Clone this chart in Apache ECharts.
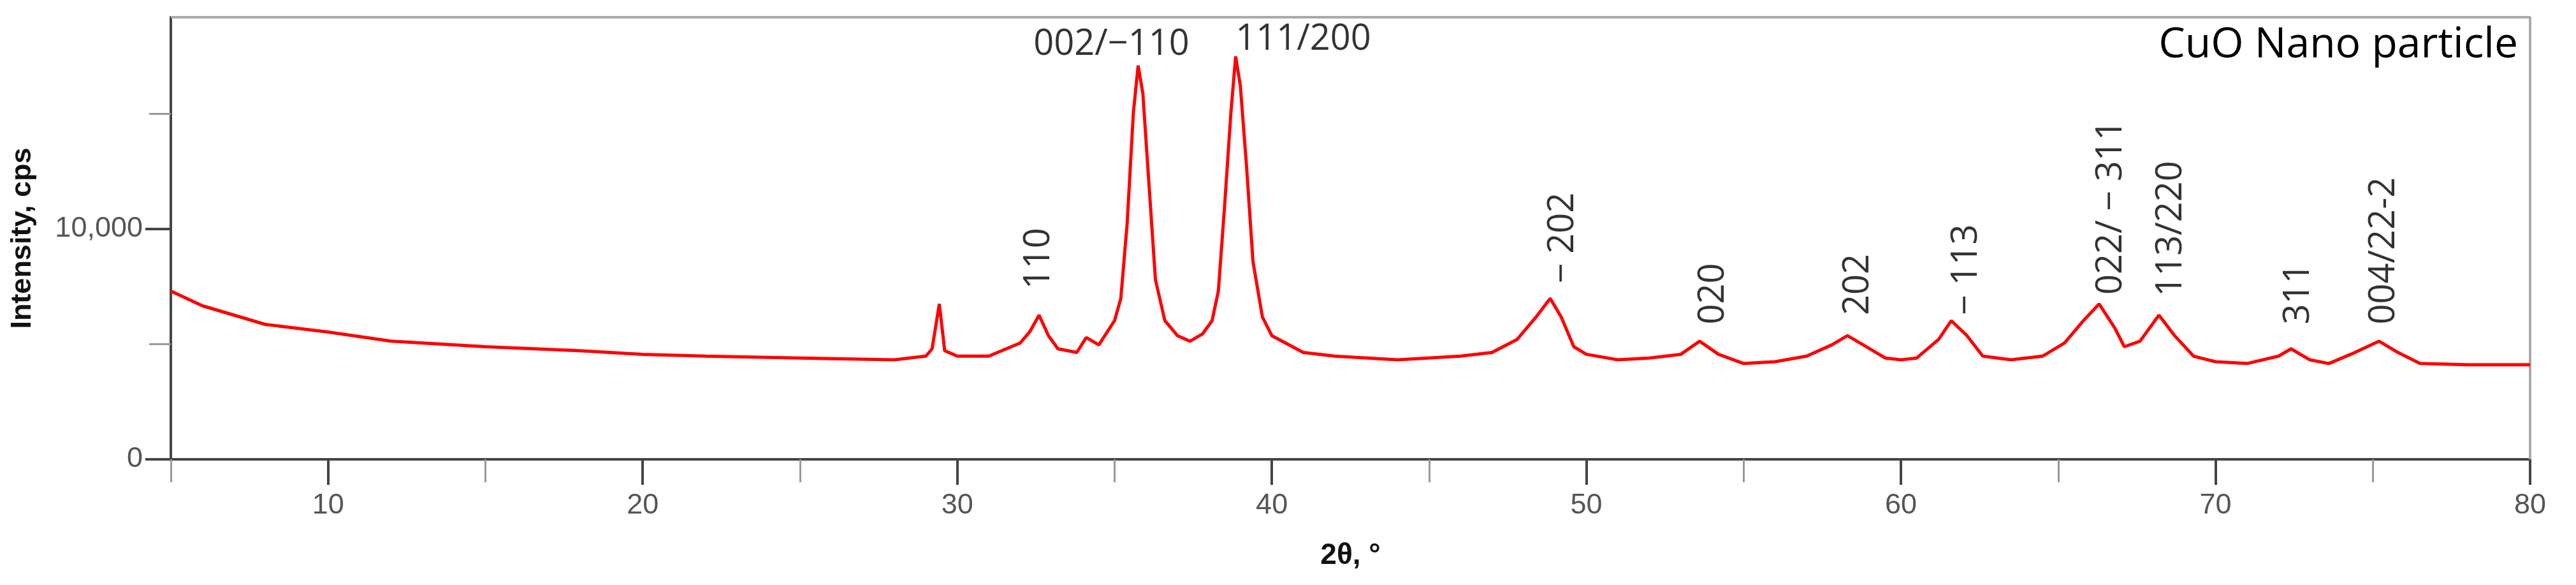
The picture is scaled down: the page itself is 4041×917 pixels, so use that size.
<!DOCTYPE html>
<html>
<head>
<meta charset="utf-8">
<script src="https://cdn.jsdelivr.net/npm/echarts@6/dist/echarts.min.js"></script>
<style>
  html, body { margin: 0; padding: 0; background: #fff; }
  #main { width: 4041px; height: 917px; }
</style>
</head>
<body>
<div id="main"></div>
<script>
// 2theta (deg) and intensity (cps)
var twoTheta = [5, 6, 8, 10, 12, 15, 18, 20, 22, 25, 28, 29, 29.2, 29.43, 29.6, 30, 31, 32, 32.3, 32.6, 32.9, 33.2, 33.8, 34.1, 34.5,
  35, 35.2, 35.4, 35.6, 35.75, 35.9, 36.1, 36.3, 36.6, 37, 37.4, 37.8, 38.1, 38.3, 38.5, 38.7, 38.85, 39.0, 39.2, 39.4, 39.7,
  40, 41, 42, 44, 46, 47, 47.8, 48.4, 48.85, 49.2, 49.6, 50, 51, 52, 53, 53.6, 54.2, 55, 56, 57, 57.8, 58.3, 58.8, 59.5, 60,
  60.5, 61.2, 61.6, 62.1, 62.6, 63.5, 64.5, 65.2, 65.8, 66.3, 66.8, 67.1, 67.6, 68.2, 68.7, 69.3, 70, 71, 72, 72.4, 73, 73.6,
  74.3, 75.2, 75.8, 76.5, 78, 80];
var intensity = [7310, 6670, 5860, 5530, 5130, 4890, 4720, 4560, 4480, 4400, 4320, 4480, 4800, 6750, 4720, 4480, 4480, 5050, 5530, 6260, 5370, 4800, 4640, 5290, 4970,
  6020, 6990, 10230, 15080, 17100, 15890, 11840, 7800, 6020, 5370, 5130, 5450, 6020, 7310, 11030, 15080, 17500, 16210, 12650, 8600, 6180,
  5370, 4640, 4480, 4320, 4480, 4640, 5210, 6180, 6990, 6180, 4890, 4560, 4320, 4400, 4560, 5130, 4560, 4160, 4240, 4480, 4970, 5370, 4970, 4400, 4320,
  4400, 5210, 6020, 5370, 4480, 4320, 4480, 5050, 6020, 6750, 5700, 4890, 5130, 6260, 5370, 4480, 4240, 4160, 4480, 4800, 4320, 4160,
  4560, 5130, 4640, 4160, 4110, 4110];

var xMajor = [10, 20, 30, 40, 50, 60, 70, 80];
var xMinor = [5, 15, 25, 35, 45, 55, 65, 75];
var yMajor = [0, 10000];
var yMinor = [5000, 15000];

// peak annotations: [x, y at label foot, text, rotated]
var peakLabels = [
  [32.6, 7390, '110', true],
  [34.9, 18000, '002/\u2212110', false],
  [41.0, 18240, '111/200', false],
  [49.26, 7640, '\u2212 202', true],
  [54.05, 5860, '020', true],
  [58.65, 6260, '202', true],
  [62.08, 6260, '\u2212 113', true],
  [66.68, 7150, '022/ \u2212 311', true],
  [68.59, 7070, '113/220', true],
  [72.65, 5860, '311', true],
  [75.37, 5860, '004/22-2', true]
];

var chart = echarts.init(document.getElementById('main'));

var lineData = [];
for (var i = 0; i < twoTheta.length; i++) {
    lineData.push([twoTheta[i], intensity[i]]);
}

var labelData = [];
for (var k = 0; k < peakLabels.length; k++) {
    var p = peakLabels[k];
    labelData.push({
        value: [p[0], p[1]],
        label: p[3]
            ? { rotate: 90, align: 'left', verticalAlign: 'middle' }
            : { rotate: 0, align: 'center', verticalAlign: 'middle' },
        name: p[2]
    });
}

// minor ticks drawn as a second hidden axis so they can be grey and unlabeled
var option = {
    backgroundColor: '#fff',
    animation: false,
    grid: { left: 268, right: 72, top: 27, bottom: 197 },
    graphic: [{
        type: 'text',
        right: 91,
        top: 38,
        style: { text: 'CuO Nano particle', font: '66px "Open Sans"', fill: '#000' }
    }],
    xAxis: [{
        type: 'value',
        min: 5,
        max: 80,
        interval: 5,
        name: '2\u03b8, \u00b0',
        nameLocation: 'middle',
        nameGap: 128,
        nameTextStyle: { fontFamily: 'Liberation Sans', fontSize: 46, fontWeight: 'bold', color: '#111' },
        axisLine: { lineStyle: { color: '#444', width: 4 } },
        axisTick: { length: 40, lineStyle: { color: '#444', width: 4 }, customValues: xMajor },
        axisLabel: { margin: 50, fontFamily: 'Liberation Sans', fontSize: 45, color: '#555', customValues: xMajor },
        splitLine: { show: false }
    }, {
        type: 'value',
        min: 5,
        max: 80,
        position: 'bottom',
        axisLine: { show: false },
        axisTick: { show: true, length: 36, lineStyle: { color: '#999', width: 3 }, customValues: xMinor },
        axisLabel: { show: false },
        splitLine: { show: false }
    }],
    yAxis: [{
        type: 'value',
        min: 0,
        max: 19200,
        name: 'Intensity, cps',
        nameLocation: 'middle',
        nameGap: 210,
        nameTextStyle: { fontFamily: 'Liberation Sans', fontSize: 45, fontWeight: 'bold', color: '#111' },
        axisLine: { show: true, lineStyle: { color: '#444', width: 4 } },
        axisTick: { show: true, length: 40, lineStyle: { color: '#444', width: 4 }, customValues: yMajor },
        axisLabel: { margin: 44, fontFamily: 'Liberation Sans', fontSize: 45, color: '#555', customValues: yMajor },
        splitLine: { show: false }
    }, {
        type: 'value',
        min: 0,
        max: 19200,
        position: 'left',
        axisLine: { show: false },
        axisTick: { show: true, length: 34, lineStyle: { color: '#999', width: 3 }, customValues: yMinor },
        axisLabel: { show: false },
        splitLine: { show: false }
    }],
    series: [
        {
            type: 'line',
            data: lineData,
            symbol: 'none',
            lineStyle: { color: '#ff0000', width: 5 },
            z: 3
        },
        {
            // top and right frame
            type: 'line',
            data: [[5, 19200], [80, 19200], [80, 0]],
            symbol: 'none',
            silent: true,
            lineStyle: { color: '#aaa', width: 4 },
            z: 1
        },
        {
            type: 'scatter',
            data: labelData,
            symbolSize: 0,
            label: {
                show: true,
                position: 'inside',
                formatter: function (p) { return p.name; },
                fontFamily: 'Open Sans',
                fontSize: 56,
                color: '#000'
            },
            z: 4
        }
    ]
};

chart.setOption(option);
</script>
</body>
</html>
